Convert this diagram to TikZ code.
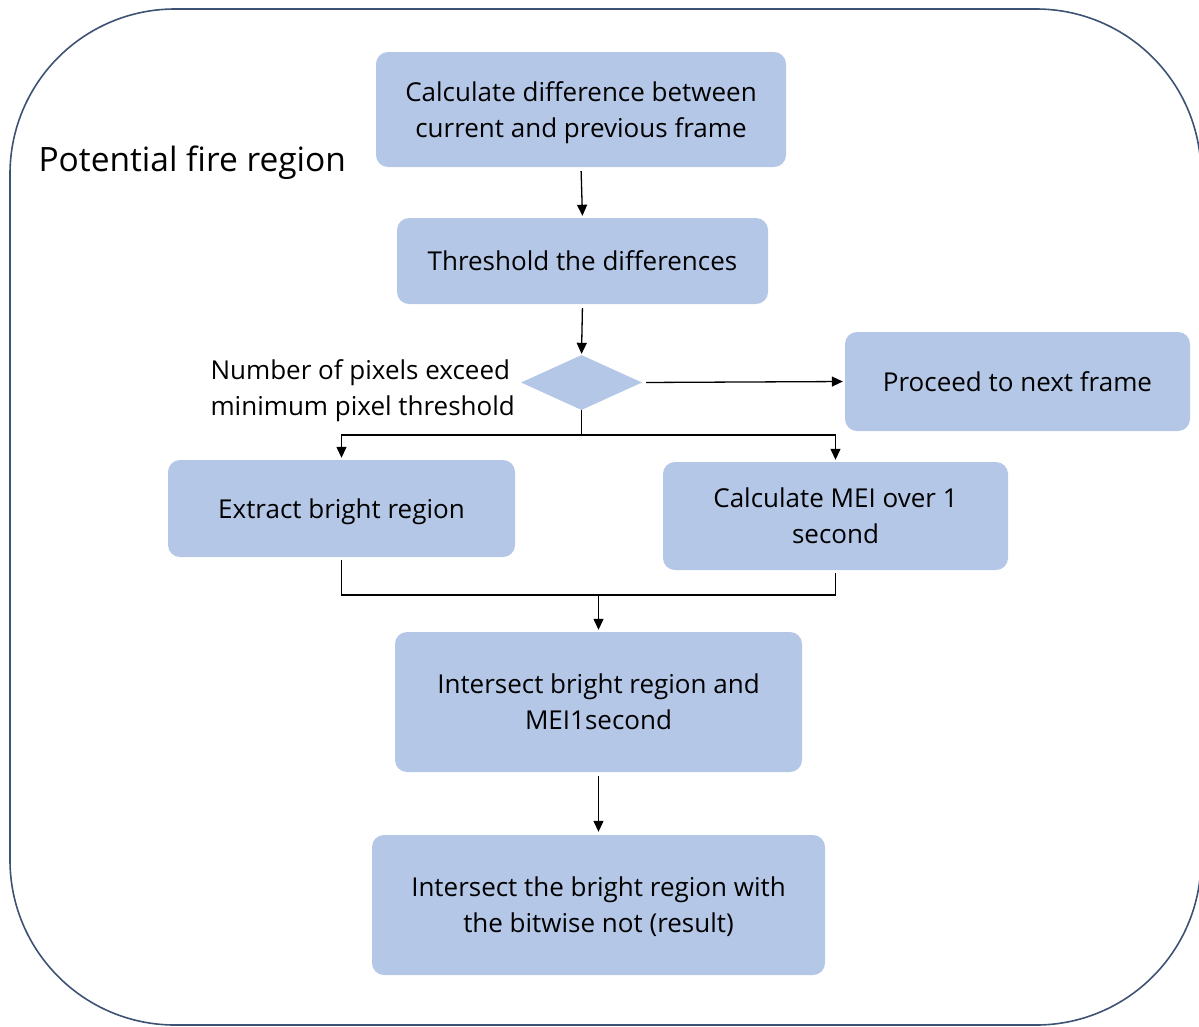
\documentclass[tikz,border=0pt]{standalone}
\usepackage{fontspec}
\setmainfont{Open Sans}
\usetikzlibrary{arrows.meta,shapes.geometric}

\definecolor{boxfill}{HTML}{B4C7E7}
\definecolor{framecol}{HTML}{3E5274}

\tikzset{
  stepbox/.style={rectangle, rounded corners=12pt, fill=boxfill, draw=none,
    align=center, font=\fontsize{26}{36}\selectfont, inner sep=0pt,
    text height=25pt, text depth=6pt},
  twoline/.style={text height=61pt},
  decision/.style={diamond, fill=boxfill, draw=none, inner sep=0pt,
    minimum width=121pt, minimum height=55pt},
  arr/.style={draw=black, line width=1.3pt, -{Triangle[length=11pt,width=10pt]}},
  link/.style={draw=black, line width=1.3pt},
  frame/.style={draw=framecol, line width=1.6pt, rounded corners=165pt},
}

\begin{document}
\begin{tikzpicture}[x=1pt,y=-1pt]
  \useasboundingbox (0,0) rectangle (1199,1026);

  % outer region frame
  \draw[frame] (10,9) rectangle (1201,1025);
  \node[anchor=west, font=\fontsize{33.5}{40}\selectfont] (title) at (35,163) {Potential fire region};

  % process steps
  \node[stepbox, twoline, minimum width=410pt, minimum height=115pt] (diff) at (581,109.5)
    {Calculate difference between\\current and previous frame};
  \node[stepbox, minimum width=371pt, minimum height=86pt] (thr) at (582.5,261)
    {Threshold the differences};
  \node[decision] (dec) at (581.5,382.5) {};
  \node[anchor=west, align=left, font=\fontsize{26}{36}\selectfont] (cond) at (207,391)
    {Number of pixels exceed\\minimum pixel threshold};
  \node[stepbox, minimum width=345pt, minimum height=99pt] (next) at (1017.5,381.5)
    {Proceed to next frame};
  \node[stepbox, minimum width=347pt, minimum height=97pt] (bright) at (341.5,508.5)
    {Extract bright region};
  \node[stepbox, twoline, minimum width=345pt, minimum height=108pt] (mei) at (835.5,516)
    {Calculate MEI over 1\\second};
  \node[stepbox, twoline, minimum width=407pt, minimum height=140pt] (inter) at (598.5,702)
    {Intersect bright region and\\MEI1second};
  \node[stepbox, twoline, minimum width=453pt, minimum height=140pt] (result) at (598.5,905)
    {Intersect the bright region with\\the bitwise not (result)};

  % connectors
  \coordinate (split) at (581.5,435);
  \coordinate (merge) at (598.5,595);

  \draw[arr, shorten <=4pt, shorten >=2pt] (diff.south) -- (thr.north);
  \draw[arr, shorten <=4pt, shorten >=1pt] (thr.south) -- (dec.north);
  \draw[arr, shorten <=4pt, shorten >=2pt] (dec.east) -- (next.west);
  \draw[link] (dec.south) -- (split);
  \draw[arr, shorten >=2pt] (split) -| (bright.north);
  \draw[arr, shorten >=2pt] (split) -| (mei.north);
  \draw[link, shorten <=3pt] (bright.south) |- (merge);
  \draw[link, shorten <=3pt] (mei.south) |- (merge);
  \draw[arr, shorten >=2pt] (merge) -- (inter.north);
  \draw[arr, shorten <=4pt, shorten >=3pt] (inter.south) -- (result.north);
\end{tikzpicture}
\end{document}
